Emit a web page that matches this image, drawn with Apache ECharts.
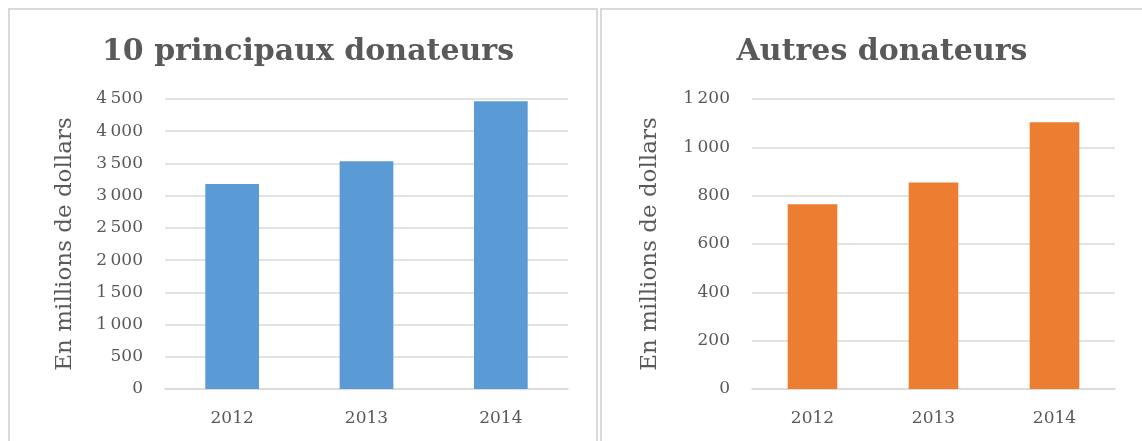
<!DOCTYPE html>
<html style="height: 100%">
<head>
<meta charset="utf-8">
<script src="https://cdn.jsdelivr.net/npm/echarts@6/dist/echarts.min.js"></script>
</head>
<body style="height: 100%; margin: 0; background: #fff">
<div id="container" style="width: 1142px; height: 441px"></div>
<script type="text/javascript">
var years = ['2012', '2013', '2014'];
var topDonors = [3180, 3535, 4465];
var otherDonors = [764, 855, 1104];
var titles = ['10 principaux donateurs', 'Autres donateurs'];
var yName = 'En millions de dollars';

var font = '"DejaVu Serif", Georgia, serif';
var grey = '#595959';

function fmt(v) {
    return String(v).replace(/\B(?=(\d{3})+(?!\d))/g, '\u2009');
}

function yAxis(idx, max, step, gap) {
    return {
        gridIndex: idx, type: 'value', min: 0, max: max, interval: step,
        name: yName, nameLocation: 'middle', nameGap: gap,
        nameTextStyle: { fontFamily: font, fontSize: 23, color: grey },
        axisLine: { show: false }, axisTick: { show: false },
        axisLabel: { fontFamily: font, fontSize: 17, color: grey, margin: 22, formatter: fmt },
        splitLine: { lineStyle: { color: '#d9d9d9', width: 1.5 } }
    };
}

function xAxis(idx) {
    return {
        gridIndex: idx, type: 'category', data: years,
        axisLine: { lineStyle: { color: '#d9d9d9', width: 1.5 } },
        axisTick: { show: false },
        axisLabel: { fontFamily: font, fontSize: 17, color: grey, margin: 21 }
    };
}

var dom = document.getElementById('container');
var myChart = echarts.init(dom);

var option = {
    backgroundColor: '#ffffff',
    animation: false,
    graphic: [
        { type: 'rect', shape: { x: 9, y: 9, width: 588, height: 450 },
          style: { fill: 'none', stroke: '#d9d9d9', lineWidth: 2 } },
        { type: 'rect', shape: { x: 601, y: 9, width: 560, height: 450 },
          style: { fill: 'none', stroke: '#d9d9d9', lineWidth: 2 } }
    ],
    title: [{
        text: titles[0], left: 303, top: 32, textAlign: 'center',
        textStyle: { fontFamily: font, fontSize: 30, fontWeight: 'bold', color: grey }
    }, {
        text: titles[1], left: 877, top: 32, textAlign: 'center',
        textStyle: { fontFamily: font, fontSize: 30, fontWeight: 'bold', color: grey }
    }],
    grid: [
        { left: 165, top: 99, width: 403, height: 290 },
        { left: 752, top: 99, width: 363, height: 290 }
    ],
    xAxis: [xAxis(0), xAxis(1)],
    yAxis: [yAxis(0, 4500, 500, 88), yAxis(1, 1200, 200, 90)],
    series: [{
        type: 'bar', xAxisIndex: 0, yAxisIndex: 0, barWidth: '40%',
        itemStyle: { color: '#5b9bd5' }, data: topDonors
    }, {
        type: 'bar', xAxisIndex: 1, yAxisIndex: 1, barWidth: '41%',
        itemStyle: { color: '#ed7d31' }, data: otherDonors
    }]
};
myChart.setOption(option);
</script>
</body>
</html>
